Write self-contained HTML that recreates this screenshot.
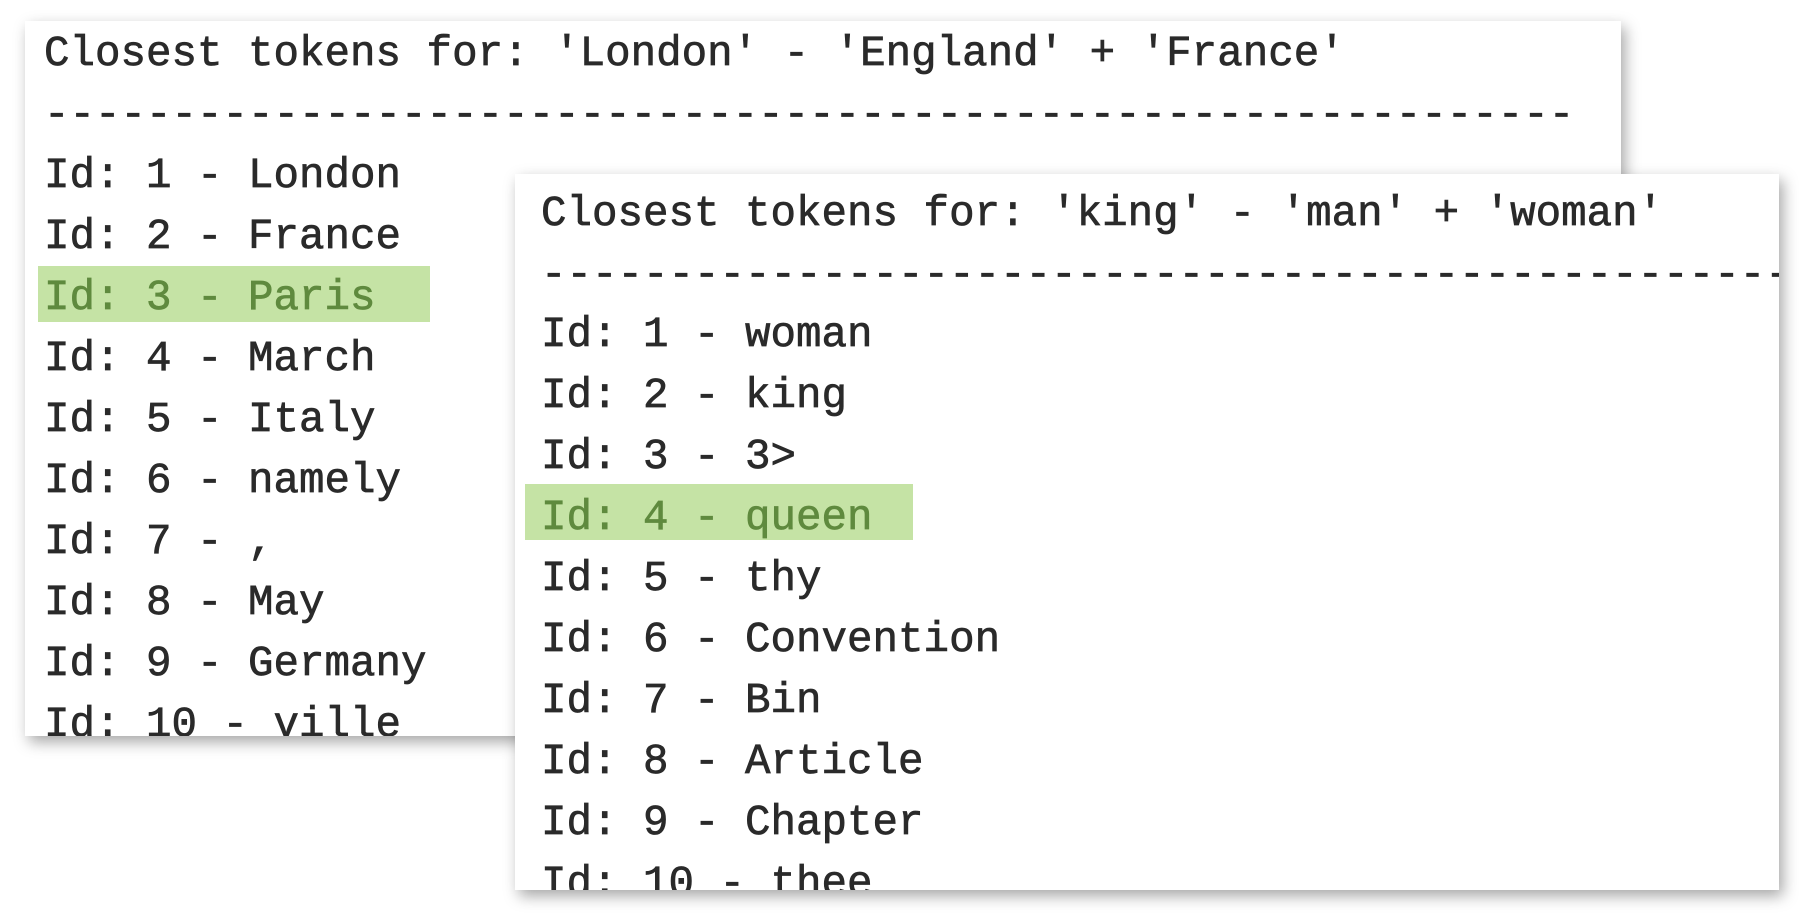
<!DOCTYPE html>
<html><head><meta charset="utf-8"><style>
html,body{margin:0;padding:0;background:#fff;width:1799px;height:918px;overflow:hidden;position:relative}
.p{position:absolute;background:#fff;overflow:hidden;box-shadow:4px 6px 14px rgba(0,0,0,0.35)}
.l{position:absolute;white-space:pre;font-family:"Liberation Mono",monospace;font-size:42.5px;line-height:61px;height:61px;color:#2a2a2a;-webkit-text-stroke:0.7px currentColor;margin-top:4px}
.hl{position:absolute;background:#c5e3a5}
.g{color:#5f8a3e}
</style></head><body>
<div class="p" style="left:25px;top:21px;width:1596px;height:715px">
<div class="hl" style="left:13px;top:245px;width:392px;height:56px"></div>
<div class="l" style="left:19px;top:-1px">Closest tokens for: 'London' - 'England' + 'France'</div>
<div class="l" style="left:19px;top:60px">------------------------------------------------------------</div>
<div class="l" style="left:19px;top:121px">Id: 1 - London</div>
<div class="l" style="left:19px;top:182px">Id: 2 - France</div>
<div class="l g" style="left:19px;top:243px">Id: 3 - Paris</div>
<div class="l" style="left:19px;top:304px">Id: 4 - March</div>
<div class="l" style="left:19px;top:365px">Id: 5 - Italy</div>
<div class="l" style="left:19px;top:426px">Id: 6 - namely</div>
<div class="l" style="left:19px;top:487px">Id: 7 - ,</div>
<div class="l" style="left:19px;top:548px">Id: 8 - May</div>
<div class="l" style="left:19px;top:609px">Id: 9 - Germany</div>
<div class="l" style="left:19px;top:670px">Id: 10 - ville</div>
</div>
<div class="p" style="left:515px;top:174px;width:1264px;height:716px">
<div class="hl" style="left:10px;top:310px;width:388px;height:56px"></div>
<div class="l" style="left:26px;top:6px">Closest tokens for: 'king' - 'man' + 'woman'</div>
<div class="l" style="left:26px;top:67px">------------------------------------------------------------</div>
<div class="l" style="left:26px;top:127px">Id: 1 - woman</div>
<div class="l" style="left:26px;top:188px">Id: 2 - king</div>
<div class="l" style="left:26px;top:249px">Id: 3 - 3&gt;</div>
<div class="l g" style="left:26px;top:310px">Id: 4 - queen</div>
<div class="l" style="left:26px;top:371px">Id: 5 - thy</div>
<div class="l" style="left:26px;top:432px">Id: 6 - Convention</div>
<div class="l" style="left:26px;top:493px">Id: 7 - Bin</div>
<div class="l" style="left:26px;top:554px">Id: 8 - Article</div>
<div class="l" style="left:26px;top:615px">Id: 9 - Chapter</div>
<div class="l" style="left:26px;top:676px">Id: 10 - thee</div>
</div>
</body></html>
